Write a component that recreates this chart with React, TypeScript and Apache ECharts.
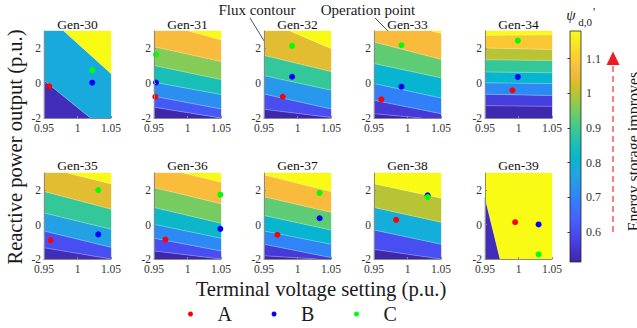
import React, { useEffect, useRef } from "react";
import * as echarts from "echarts";

// ---------------- data ----------------
const GEN_NAMES = ["Gen-30", "Gen-31", "Gen-32", "Gen-33", "Gen-34", "Gen-35", "Gen-36", "Gen-37", "Gen-38", "Gen-39"];
const X_RANGE = [0.95, 1.05];
const Y_RANGE = [-2, 3];
const X_TICKS = [0.95, 1, 1.05];
const Y_TICKS = [-2, 0, 2];
const CBAR_RANGE = [0.513, 1.18];
const CBAR_TICKS = [0.6, 0.7, 0.8, 0.9, 1, 1.1];

// contour boundaries, bottom to top: [Q at V=0.95, Q at V=1.05]
const CONTOUR_EDGES = [
  [[0.17, -2.96], [4.03, 0.56]],
  [[-1.38, -2.0], [-0.75, -1.48], [0.06, -0.65], [1.02, 0.21], [2.1, 1.25], [3.55, 2.5]],
  [[-1.5, -1.97], [-0.62, -1.48], [0.44, -0.4], [1.6, 0.67], [3.64, 2.0]],
  [[-1.75, -2.1], [-0.98, -1.75], [-0.02, -0.85], [1.13, 0.31], [2.37, 1.37], [3.83, 2.87]],
  [[-1.29, -1.33], [-0.63, -0.71], [0.02, -0.02], [0.65, 0.6], [1.35, 1.31], [2.02, 1.94], [2.75, 2.79]],
  [[-1.34, -2.0], [-0.37, -1.32], [0.68, -0.27], [1.93, 0.9], [3.35, 2.37]],
  [[-1.53, -2.0], [-0.79, -1.53], [0.02, -0.79], [1.0, 0.08], [2.16, 1.21], [3.42, 2.47]],
  [[-1.81, -2.05], [-1.14, -1.92], [-0.37, -1.14], [0.53, -0.31], [1.62, 0.72], [2.9, 1.93]],
  [[-1.44, -2.0], [-0.31, -1.14], [1.0, 0.14], [2.38, 1.54]],
  [[1.58, -14.3]],
];
// psi_d,0' level of each band, bottom to top
const BAND_LEVELS = [
  [0.53, 0.78, 1.18],
  [0.515, 0.62, 0.72, 0.85, 0.96, 1.066, 1.18],
  [0.515, 0.6, 0.74, 0.89, 1.04, 1.18],
  [0.515, 0.56, 0.69, 0.81, 0.93, 1.066, 1.18],
  [0.52, 0.57, 0.71, 0.81, 0.89, 1.0, 1.09, 1.18],
  [0.53, 0.6, 0.76, 0.89, 1.04, 1.18],
  [0.515, 0.6, 0.71, 0.82, 0.95, 1.07, 1.18],
  [0.515, 0.56, 0.7, 0.81, 0.93, 1.066, 1.18],
  [0.515, 0.6, 0.79, 1.0, 1.18],
  [0.53, 1.18],
];
const POINTS_A = [
  [0.958, -0.18], [0.952, -0.78], [0.978, -0.78], [0.961, -0.93], [0.991, -0.41],
  [0.96, -0.91], [0.967, -0.87], [0.97, -0.59], [0.983, 0.28], [0.995, 0.14],
];
const POINTS_B = [
  [1.022, 0.03], [0.953, 0.04], [0.992, 0.37], [0.991, -0.2], [0.999, 0.36],
  [1.031, -0.57], [1.049, -0.25], [1.033, 0.37], [1.03, 1.7], [1.03, 0.01],
];
const POINTS_C = [
  [1.022, 0.74], [0.953, 1.65], [0.992, 2.14], [0.991, 2.18], [0.999, 2.45],
  [1.031, 2.01], [1.049, 1.74], [1.033, 1.84], [1.03, 1.6], [1.03, -1.73],
];
const CLASS_NAMES = ["A", "B", "C"];

// ---------------- styles / layout ----------------
const CLASS_COLORS = ["#ff0000", "#0000ff", "#00ff00"];
const SERIF = "'Liberation Serif', 'Times New Roman', Times, serif";
const COL_LEFT = [44, 154, 264, 374, 485];
const ROW_TOP = [31, 173];
const ROW_H = [87, 86];
const PLOT_W = 67;

const PARULA: number[][] = [
  [0, 62, 38, 168], [4, 69, 55, 213], [8, 72, 77, 240], [12, 69, 99, 253], [16, 50, 124, 252],
  [20, 43, 145, 239], [24, 32, 165, 227], [28, 8, 181, 208], [32, 25, 191, 182], [36, 55, 200, 151],
  [40, 100, 205, 111], [44, 157, 201, 67], [48, 209, 191, 39], [52, 248, 186, 61], [56, 252, 207, 48],
  [60, 245, 233, 36], [63, 249, 251, 21],
];

function parula(t: number): string {
  const u = Math.max(0, Math.min(1, t)) * 63;
  for (let i = 0; i < PARULA.length - 1; i++) {
    const a = PARULA[i], b = PARULA[i + 1];
    if (u <= b[0]) {
      const f = (u - a[0]) / (b[0] - a[0]);
      const c = [1, 2, 3].map((k) => Math.round(a[k] + f * (b[k] - a[k])));
      return `rgb(${c[0]},${c[1]},${c[2]})`;
    }
  }
  const l = PARULA[PARULA.length - 1];
  return `rgb(${l[1]},${l[2]},${l[3]})`;
}

type Rect = { x0: number; y0: number; x1: number; y1: number };

function clipAxis(pts: number[][], axis: number, bound: number, keepGreater: boolean) {
  const out: number[][] = [];
  for (let i = 0; i < pts.length; i++) {
    const a = pts[i], b = pts[(i + 1) % pts.length];
    const ina = keepGreater ? a[axis] >= bound : a[axis] <= bound;
    const inb = keepGreater ? b[axis] >= bound : b[axis] <= bound;
    if (ina) out.push(a);
    if (ina !== inb) {
      const t = (bound - a[axis]) / (b[axis] - a[axis]);
      out.push([a[0] + t * (b[0] - a[0]), a[1] + t * (b[1] - a[1])]);
    }
  }
  return out;
}
function clipPoly(pts: number[][], r: Rect) {
  let p = clipAxis(pts, 0, r.x0, true);
  p = clipAxis(p, 0, r.x1, false);
  p = clipAxis(p, 1, r.y0, true);
  p = clipAxis(p, 1, r.y1, false);
  return p;
}
function clipSeg(a: number[], b: number[], r: Rect) {
  let t0 = 0, t1 = 1;
  const dx = b[0] - a[0], dy = b[1] - a[1];
  const p = [-dx, dx, -dy, dy];
  const q = [a[0] - r.x0, r.x1 - a[0], a[1] - r.y0, r.y1 - a[1]];
  for (let i = 0; i < 4; i++) {
    if (p[i] === 0) {
      if (q[i] < 0) return null;
    } else {
      const t = q[i] / p[i];
      if (p[i] < 0) { if (t > t1) return null; if (t > t0) t0 = t; }
      else { if (t < t0) return null; if (t < t1) t1 = t; }
    }
  }
  return [[a[0] + t0 * dx, a[1] + t0 * dy], [a[0] + t1 * dx, a[1] + t1 * dy]];
}

const txt = (text: string, x: number, y: number, size: number, extra: any = {}) => ({
  type: "text", x, y, silent: true, ...extra,
  style: {
    text, fontFamily: SERIF, fontSize: size, fontWeight: "normal", fill: "#1a1a1a",
    align: "center", verticalAlign: "middle", textAlign: "center", textVerticalAlign: "middle",
    ...(extra.style || {}),
  },
});

function buildOption() {
  const grid: any[] = [];
  const xAxis: any[] = [];
  const yAxis: any[] = [];
  const series: any[] = [];
  const titles: any[] = [];
  const axisColor = "#8a8a8a";
  const labelColor = "#333";

  GEN_NAMES.forEach((name, g) => {
    const row = g < 5 ? 0 : 1;
    const col = g % 5;
    grid.push({ left: COL_LEFT[col], top: ROW_TOP[row], width: PLOT_W, height: ROW_H[row], containLabel: false });
    titles.push(txt(name, COL_LEFT[col] + PLOT_W / 2, row === 0 ? 24 : 165, 13.5, { style: { fill: "#111" } }));
    xAxis.push({
      gridIndex: g, type: "value", min: X_RANGE[0], max: X_RANGE[1], interval: 0.05, z: 5,
      axisLine: { show: true, onZero: false, lineStyle: { color: axisColor, width: 1 } },
      axisTick: { show: true, inside: true, length: 2, customValues: X_TICKS, lineStyle: { color: axisColor } },
      axisLabel: {
        customValues: X_TICKS, margin: 4, fontSize: 11.5, fontFamily: SERIF, color: labelColor,
        formatter: (v: number) => String(+v.toFixed(2)),
      },
      splitLine: { show: false },
    });
    yAxis.push({
      gridIndex: g, type: "value", min: Y_RANGE[0], max: Y_RANGE[1], interval: 1, z: 5,
      axisLine: { show: true, onZero: false, lineStyle: { color: axisColor, width: 1 } },
      axisTick: { show: true, inside: true, length: 2, customValues: Y_TICKS, lineStyle: { color: axisColor } },
      axisLabel: {
        customValues: Y_TICKS, margin: 3, fontSize: 11.5, fontFamily: SERIF, color: labelColor,
        padding: row === 0 ? [7, 0, 0, 0] : 0,
        formatter: (v: number) => String(v),
      },
      splitLine: { show: false },
    });

    const edges = CONTOUR_EDGES[g];
    const levels = BAND_LEVELS[g];
    const bandData = levels.map((lev, i) => {
      const lower = i === 0 ? [-60, -60] : edges[i - 1];
      const upper = i === levels.length - 1 ? [60, 60] : edges[i];
      return [lower[0], lower[1], upper[0], upper[1], lev, i > 0 ? 1 : 0];
    });
    series.push({
      type: "custom", name: name + " contour", xAxisIndex: g, yAxisIndex: g, silent: true, z: 1,
      data: bandData,
      renderItem: (params: any, api: any) => {
        const cs = params.coordSys;
        const r: Rect = { x0: cs.x, y0: cs.y, x1: cs.x + cs.width, y1: cs.y + cs.height };
        const pts = [
          api.coord([X_RANGE[0], api.value(0)]),
          api.coord([X_RANGE[1], api.value(1)]),
          api.coord([X_RANGE[1], api.value(3)]),
          api.coord([X_RANGE[0], api.value(2)]),
        ];
        const lev = api.value(4);
        const color = parula((lev - CBAR_RANGE[0]) / (CBAR_RANGE[1] - CBAR_RANGE[0]));
        const children: any[] = [];
        const poly = clipPoly(pts, r);
        if (poly.length >= 3) {
          children.push({ type: "polygon", shape: { points: poly }, style: { fill: color, stroke: color, lineWidth: 0.4 } });
        }
        if (api.value(5)) {
          const seg = clipSeg(pts[0], pts[1], r);
          if (seg) {
            children.push({
              type: "line",
              shape: { x1: seg[0][0], y1: seg[0][1], x2: seg[1][0], y2: seg[1][1] },
              style: { stroke: "rgba(255,255,255,0.45)", lineWidth: 0.6 },
            });
          }
        }
        return { type: "group", children };
      },
    });

    [POINTS_A, POINTS_B, POINTS_C].forEach((pts, k) => {
      series.push({
        type: "scatter", name: CLASS_NAMES[k], xAxisIndex: g, yAxisIndex: g, z: 4,
        symbol: "circle", symbolSize: 6, silent: true,
        itemStyle: { color: CLASS_COLORS[k], opacity: 1 },
        data: [pts[g]],
      });
    });
  });

  // colorbar
  const cb = GEN_NAMES.length;
  grid.push({ left: 570, top: 31, width: 11, height: 231 });
  xAxis.push({ gridIndex: cb, type: "value", min: 0, max: 1, show: false });
  yAxis.push({
    gridIndex: cb, type: "value", position: "right", min: CBAR_RANGE[0], max: CBAR_RANGE[1], z: 5,
    axisLine: { show: false },
    axisTick: { show: true, inside: true, length: 2.5, customValues: CBAR_TICKS, lineStyle: { color: "#333" } },
    axisLabel: {
      customValues: CBAR_TICKS, margin: 5, fontSize: 12, fontFamily: SERIF, color: labelColor,
      formatter: (v: number) => String(Math.round(v * 10) / 10),
    },
    splitLine: { show: false },
  });
  const stops = PARULA.map((p) => ({ offset: p[0] / 63, color: `rgb(${p[1]},${p[2]},${p[3]})` }));
  series.push({
    type: "custom", name: "colorbar", xAxisIndex: cb, yAxisIndex: cb, silent: true, z: 1,
    data: [[0, CBAR_RANGE[0], 1, CBAR_RANGE[1]]],
    renderItem: (_params: any, api: any) => {
      const p0 = api.coord([api.value(0), api.value(1)]);
      const p1 = api.coord([api.value(2), api.value(3)]);
      return {
        type: "rect",
        shape: { x: p0[0], y: p1[1], width: p1[0] - p0[0], height: p0[1] - p1[1] },
        style: { fill: new echarts.graphic.LinearGradient(0, 1, 0, 0, stops), stroke: "#262626", lineWidth: 0.8 },
      };
    },
  });

  const graphic: any[] = [
    ...titles,
    txt("Reactive power output (p.u.)", 15, 147, 20.5, { rotation: Math.PI / 2 }),
    txt("Terminal voltage setting (p.u.)", 321, 289, 20.7),
    txt("Flux contour", 257, 10, 15),
    { type: "line", silent: true, shape: { x1: 250, y1: 18, x2: 274, y2: 57 }, style: { stroke: "#222", lineWidth: 0.8 } },
    txt("Operation point", 368, 10, 15),
    { type: "line", silent: true, shape: { x1: 375, y1: 18, x2: 400, y2: 43 }, style: { stroke: "#222", lineWidth: 0.8 } },
    txt("ψ", 571, 15, 15, { style: { fontStyle: "italic" } }),
    txt("d,0", 585, 22, 11),
    txt("'", 594, 12, 12),
    { type: "line", silent: true, shape: { x1: 613, y1: 232, x2: 613, y2: 64 }, style: { stroke: "#ed1c24", lineWidth: 1.1, lineDash: [6, 4] } },
    { type: "polygon", silent: true, shape: { points: [[606.5, 65], [619.5, 65], [613, 51.5]] }, style: { fill: "#ed1c24" } },
    txt("Energy storage improves", 633, 151.5, 16, { rotation: Math.PI / 2 }),
  ];

  return {
    animation: false,
    backgroundColor: "#ffffff",
    grid,
    xAxis,
    yAxis,
    series,
    graphic,
    legend: {
      data: CLASS_NAMES, left: 188, top: 304, orient: "horizontal", padding: 0,
      icon: "circle", itemWidth: 44, itemHeight: 5, itemGap: 39.6, selectedMode: false,
      textStyle: { fontFamily: SERIF, fontSize: 20, color: "#1a1a1a" },
    },
  };
}

export default function App() {
  const ref = useRef<HTMLDivElement>(null);
  useEffect(() => {
    if (!ref.current) return;
    const chart = echarts.init(ref.current, undefined, { renderer: "svg" });
    chart.setOption(buildOption() as any);
    return () => chart.dispose();
  }, []);
  return (
    <div
      ref={ref}
      style={{ position: "absolute", left: 0, top: 0, width: 637, height: 328, background: "#fff" }}
    />
  );
}
